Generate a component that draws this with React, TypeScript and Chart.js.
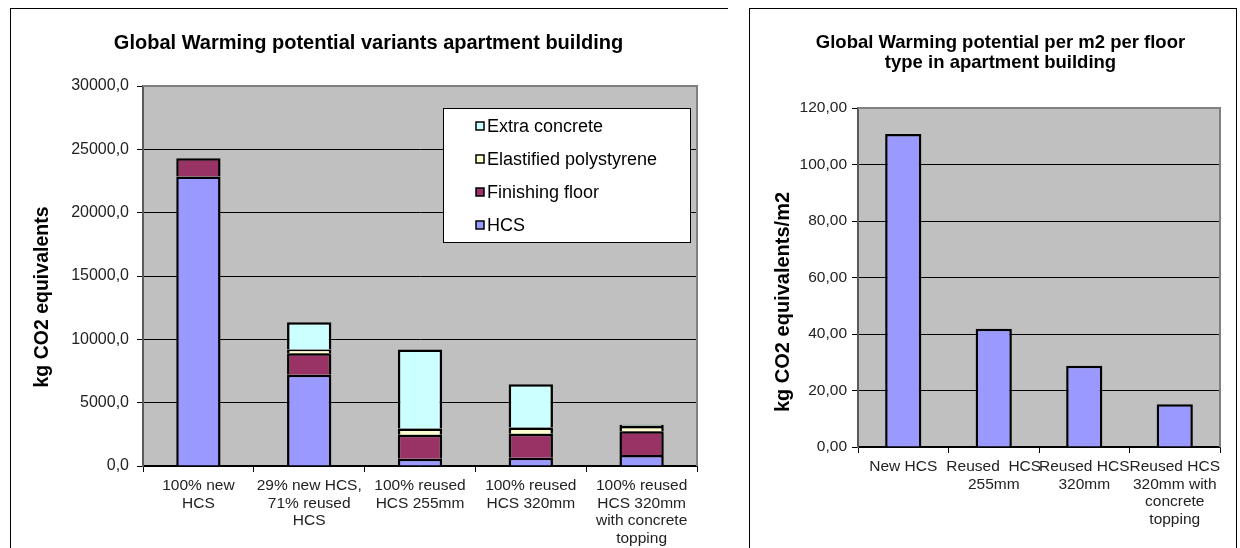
import React, { useEffect, useRef } from 'react';
import { Chart, registerables } from 'chart.js';

Chart.register(...registerables);

// ---------- Data: left chart ----------
const variantLabels: string[][] = [
  ['100% new', 'HCS'],
  ['29% new HCS,', '71% reused', 'HCS'],
  ['100% reused', 'HCS 255mm'],
  ['100% reused', 'HCS 320mm'],
  ['100% reused', 'HCS 320mm', 'with concrete', 'topping'],
];
const hcsValues = [22850, 7200, 580, 660, 870];
const finishingFloorValues = [1450, 1700, 1880, 1880, 1880];
const polystyreneValues = [null, 300, 500, 500, 400];
const extraConcreteValues = [null, 2150, 6240, 3410, 100];
const leftTitle = 'Global Warming potential variants apartment building';
const leftAxisTitle = 'kg CO2 equivalents';
const leftMax = 30000;
const leftStep = 5000;

// ---------- Data: right chart ----------
const floorTypeLabels: string[][] = [
  ['New HCS'],
  ['Reused  HCS', '255mm'],
  ['Reused HCS', '320mm'],
  ['Reused HCS', '320mm with', 'concrete', 'topping'],
];
const perM2Values = [110.8, 41.9, 28.8, 15.1];
const rightTitleLines = ['Global Warming potential per m2 per floor', 'type in apartment building'];
const rightAxisTitle = 'kg CO2 equivalents/m2';
const rightMax = 120;
const rightStep = 20;

// ---------- Styles ----------
const FONT = "'Liberation Sans', Arial, sans-serif";
const C_HCS = '#9999FF';
const C_FIN = '#993366';
const C_POLY = '#FFFFCC';
const C_EXTRA = '#CCFFFF';
const PLOT_BG = '#C0C0C0';
const TEXT = '#222222';

const plotAreaPlugin = {
  id: 'plotArea',
  beforeDraw(chart: any) {
    const { ctx, chartArea } = chart;
    const { left, top, width, height } = chartArea;
    ctx.save();
    ctx.fillStyle = PLOT_BG;
    ctx.fillRect(left, top, width, height);
    ctx.restore();
  },
  beforeDatasetsDraw(chart: any) {
    const { ctx, chartArea } = chart;
    const { left, top, right, bottom } = chartArea;
    ctx.save();
    ctx.strokeStyle = '#808080';
    ctx.lineWidth = 2;
    ctx.beginPath();
    ctx.moveTo(left, top);
    ctx.lineTo(right, top);
    ctx.lineTo(right, bottom);
    ctx.stroke();
    ctx.restore();
  },
};

const decorPlugin = {
  id: 'decor',
  afterDraw(chart: any, _args: any, opts: any) {
    const { ctx } = chart;
    ctx.save();
    ctx.fillStyle = '#000';
    ctx.textAlign = 'center';
    ctx.textBaseline = 'middle';
    ctx.font = opts.titleFont;
    (opts.titleLines as string[]).forEach((line, i) => {
      ctx.fillText(line, opts.titleX, opts.titleY + i * opts.titleGap);
    });
    ctx.save();
    ctx.translate(opts.yTitleX, opts.yTitleY);
    ctx.rotate(-Math.PI / 2);
    ctx.font = opts.yTitleFont;
    ctx.fillText(opts.yTitle, 0, 0);
    ctx.restore();
    if (opts.legend) {
      const lg = opts.legend;
      ctx.fillStyle = '#fff';
      ctx.fillRect(lg.x, lg.y, lg.w, lg.h);
      ctx.strokeStyle = '#000';
      ctx.lineWidth = 1;
      ctx.strokeRect(lg.x + 0.5, lg.y + 0.5, lg.w, lg.h);
      const ds = chart.data.datasets.slice().reverse();
      ctx.font = lg.font;
      ctx.textAlign = 'left';
      ds.forEach((d: any, i: number) => {
        const cy = lg.firstY + i * lg.gap;
        ctx.fillStyle = d.backgroundColor;
        ctx.fillRect(lg.boxX, cy - 4, 8, 8);
        ctx.strokeStyle = '#000';
        ctx.lineWidth = 1.5;
        ctx.strokeRect(lg.boxX, cy - 4, 8, 8);
        ctx.fillStyle = '#000';
        ctx.fillText(d.label, lg.textX, cy + 1);
      });
    }
    ctx.restore();
  },
};

function fixSize(w: number | null, h: number | null) {
  return (scale: any) => {
    if (w !== null) scale.width = w;
    if (h !== null) scale.height = h;
  };
}

function makeScales(opts: {
  yWidth: number;
  xHeight: number;
  max: number;
  step: number;
  decimals: number;
  stacked: boolean;
  yPad: number;
  yFont: number;
}) {
  return {
    x: {
      stacked: opts.stacked,
      afterFit: fixSize(null, opts.xHeight),
      grid: {
        display: true,
        drawOnChartArea: false,
        drawTicks: true,
        tickLength: 6,
        offset: true,
        color: '#000',
        lineWidth: 1,
      },
      border: { display: true, color: '#000', width: 1.5 },
      ticks: {
        autoSkip: false,
        maxRotation: 0,
        minRotation: 0,
        padding: 5,
        color: TEXT,
        font: { family: FONT, size: 15.5, lineHeight: 1.14 },
      },
    },
    y: {
      stacked: opts.stacked,
      min: 0,
      max: opts.max,
      afterFit: fixSize(opts.yWidth, null),
      grid: {
        display: true,
        drawOnChartArea: true,
        drawTicks: true,
        tickLength: 6,
        color: '#000',
        lineWidth: 1,
      },
      border: { display: true, color: '#5a5a5a', width: 2 },
      ticks: {
        stepSize: opts.step,
        padding: opts.yPad,
        color: TEXT,
        font: { family: FONT, size: opts.yFont },
        callback: (v: any) => Number(v).toFixed(opts.decimals).replace('.', ','),
      },
    },
  };
}

function LeftChart() {
  const ref = useRef<HTMLCanvasElement | null>(null);
  useEffect(() => {
    if (!ref.current) return;
    const chart = new Chart(ref.current, {
      type: 'bar',
      data: {
        labels: variantLabels,
        datasets: [
          { label: 'HCS', data: hcsValues, backgroundColor: C_HCS },
          { label: 'Finishing floor', data: finishingFloorValues, backgroundColor: C_FIN },
          { label: 'Elastified polystyrene', data: polystyreneValues as any, backgroundColor: C_POLY },
          { label: 'Extra concrete', data: extraConcreteValues as any, backgroundColor: C_EXTRA },
        ].map((d) => ({
          ...d,
          borderColor: '#000',
          borderWidth: 2.5,
          categoryPercentage: 1,
          barPercentage: 0.4,
        })),
      },
      options: {
        responsive: false,
        animation: false,
        layout: { padding: { left: 0, top: 78, right: 31, bottom: 0 } },
        scales: makeScales({ yWidth: 133, xHeight: 82, max: leftMax, step: leftStep, decimals: 1, stacked: true, yPad: 8, yFont: 16 }) as any,
        plugins: {
          legend: { display: false },
          title: { display: false },
          tooltip: { enabled: false },
          decor: {
            titleLines: [leftTitle],
            titleX: 358.5,
            titleY: 35,
            titleGap: 20,
            titleFont: `bold 20px ${FONT}`,
            yTitle: leftAxisTitle,
            yTitleX: 33,
            yTitleY: 289,
            yTitleFont: `bold 19.5px ${FONT}`,
            legend: {
              x: 433,
              y: 100,
              w: 247,
              h: 134,
              boxX: 466,
              textX: 477,
              firstY: 118,
              gap: 33,
              font: `18px ${FONT}`,
            },
          },
        } as any,
      },
      plugins: [plotAreaPlugin, decorPlugin],
    });
    return () => chart.destroy();
  }, []);
  return <canvas ref={ref} width={718} height={540} style={{ display: 'block' }} />;
}

function RightChart() {
  const ref = useRef<HTMLCanvasElement | null>(null);
  useEffect(() => {
    if (!ref.current) return;
    const chart = new Chart(ref.current, {
      type: 'bar',
      data: {
        labels: floorTypeLabels,
        datasets: [
          {
            label: 'kg CO2 equivalents/m2',
            data: perM2Values,
            backgroundColor: C_HCS,
            borderColor: '#000',
            borderWidth: 2.5,
            categoryPercentage: 1,
            barPercentage: 0.4,
          },
        ],
      },
      options: {
        responsive: false,
        animation: false,
        layout: { padding: { left: 0, top: 100, right: 17, bottom: 0 } },
        scales: makeScales({ yWidth: 109, xHeight: 101, max: rightMax, step: rightStep, decimals: 2, stacked: false, yPad: 5, yFont: 15.5 }) as any,
        plugins: {
          legend: { display: false },
          title: { display: false },
          tooltip: { enabled: false },
          decor: {
            titleLines: rightTitleLines,
            titleX: 251.5,
            titleY: 35,
            titleGap: 20,
            titleFont: `bold 18.5px ${FONT}`,
            yTitle: rightAxisTitle,
            yTitleX: 34,
            yTitleY: 294,
            yTitleFont: `bold 20px ${FONT}`,
            legend: null,
          },
        } as any,
      },
      plugins: [plotAreaPlugin, decorPlugin],
    });
    return () => chart.destroy();
  }, []);
  return <canvas ref={ref} width={488} height={540} style={{ display: 'block' }} />;
}

export default function App() {
  return (
    <div
      style={{
        position: 'fixed',
        left: 0,
        top: 0,
        width: 1240,
        height: 548,
        background: '#fff',
        overflow: 'hidden',
      }}
    >
      <div
        style={{
          position: 'absolute',
          left: 10,
          top: 8,
          width: 718,
          height: 540,
          borderTop: '1px solid #000',
          borderLeft: '1px solid #000',
          boxSizing: 'border-box',
        }}
      />
      <div
        style={{
          position: 'absolute',
          left: 749,
          top: 8,
          width: 488,
          height: 540,
          borderTop: '1px solid #000',
          borderLeft: '1px solid #000',
          borderRight: '1px solid #000',
          boxSizing: 'border-box',
        }}
      />
      <div style={{ position: 'absolute', left: 10, top: 8 }}>
        <LeftChart />
      </div>
      <div style={{ position: 'absolute', left: 749, top: 8 }}>
        <RightChart />
      </div>
    </div>
  );
}
